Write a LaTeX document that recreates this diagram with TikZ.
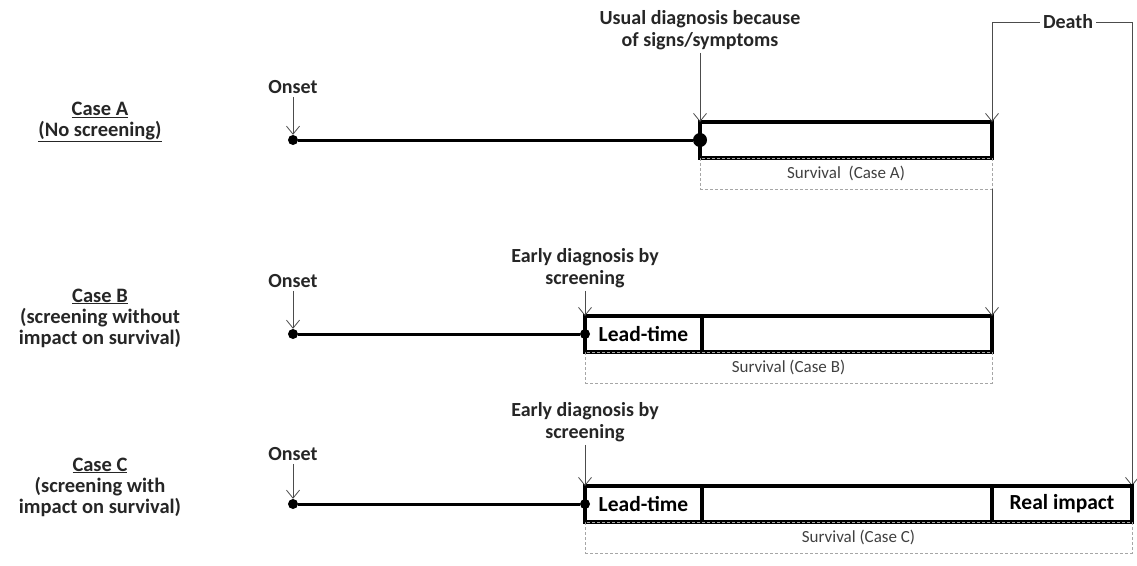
\documentclass[tikz,border=0pt]{standalone}
\usepackage{fontspec}
\setmainfont{Carlito}
\usetikzlibrary{arrows.meta}
\tikzset{
  caselabel/.style={font=\fontsize{20.5}{21}\selectfont\bfseries, align=center, text=black!85},
  eventlabel/.style={font=\fontsize{20}{22}\selectfont\bfseries, align=center, inner sep=3pt, text=black!85},
  segment/.style={draw, line width=3.2pt, minimum height=36pt, inner sep=0pt, outer sep=0pt, font=\fontsize{21.5}{22}\selectfont\bfseries},
  survival/.style={draw=gray!70, densely dashed, line width=0.7pt, minimum height=31pt, inner sep=0pt, outer sep=0pt, font=\fontsize{17}{20}\selectfont, text=black!75},
  onsetdot/.style={circle, fill, minimum size=10pt, inner sep=0pt},
  diagdot/.style={circle, fill, minimum size=14pt, inner sep=0pt},
  pointer/.style={-{Straight Barb[length=8pt,width=13pt]}, line width=0.8pt, black!70},
  timeline/.style={line width=3pt}
}
\begin{document}
\begin{tikzpicture}[x=1pt, y=-1pt]
  \useasboundingbox (0,0) rectangle (1137,565);

  % case A
  \node[caselabel] (caseA) at (100,122) {\underline{Case A}\\\underline{(No screening)}};
  \node[eventlabel] (aOnsetText) at (293,87) {Onset};
  \node[onsetdot] (aOnset) at (293,140) {};
  \node[eventlabel] (aDiagText) at (700,30) {Usual diagnosis because\\of signs/symptoms};
  \node[segment, minimum width=292pt] (aBox) at (846,140) {};
  \node[diagdot] (aDiag) at (700,140) {};
  \node[survival, minimum width=292pt] (aSurv) at (846,173.5) {Survival\ \ (Case A)};
  \draw[timeline] (aOnset) -- (aDiag);
  \draw[pointer] (aOnsetText) -- (aOnset);
  \draw[pointer] (aDiagText) -- (aBox.north west);

  % death
  \node[eventlabel] (death) at (1068,22) {Death};
  \draw[pointer] (death.west) -| (aBox.north east);
  \draw[pointer] (death.east) -| (1132,486);

  % case B
  \node[caselabel] (caseB) at (100,318) {\underline{Case B}\\(screening without\\impact on survival)};
  \node[eventlabel] (bOnsetText) at (293,281) {Onset};
  \node[onsetdot] (bOnset) at (293,334) {};
  \node[eventlabel] (bDiagText) at (585,268) {Early diagnosis by\\screening};
  \node[segment, minimum width=117pt] (bLead) at (643.5,334) {Lead-time};
  \node[segment, minimum width=290pt] (bRest) at (847,334) {};
  \node[onsetdot] (bDiag) at (585,334) {};
  \node[survival, minimum width=407pt] (bSurv) at (788.5,367.5) {Survival (Case B)};
  \draw[timeline] (bOnset) -- (bDiag);
  \draw[pointer] (bOnsetText) -- (bOnset);
  \draw[pointer] (bDiagText) -- (bLead.north west);
  \draw[pointer] (aSurv.south east) -- (bRest.north east);

  % case C
  \node[caselabel] (caseC) at (100,487) {\underline{Case C}\\(screening with\\impact on survival)};
  \node[eventlabel] (cOnsetText) at (293,454) {Onset};
  \node[onsetdot] (cOnset) at (293,504) {};
  \node[eventlabel] (cDiagText) at (585,422) {Early diagnosis by\\screening};
  \node[segment, minimum width=117pt] (cLead) at (643.5,504) {Lead-time};
  \node[segment, minimum width=290pt] (cRest) at (847,504) {};
  \node[segment, minimum width=140pt] (cReal) at (1062,504) {Real impact};
  \node[onsetdot] (cDiag) at (585,504) {};
  \node[survival, minimum width=547pt] (cSurv) at (858.5,537.5) {Survival (Case C)};
  \draw[timeline] (cOnset) -- (cDiag);
  \draw[pointer] (cOnsetText) -- (cOnset);
  \draw[pointer] (cDiagText) -- (cLead.north west);
\end{tikzpicture}
\end{document}
